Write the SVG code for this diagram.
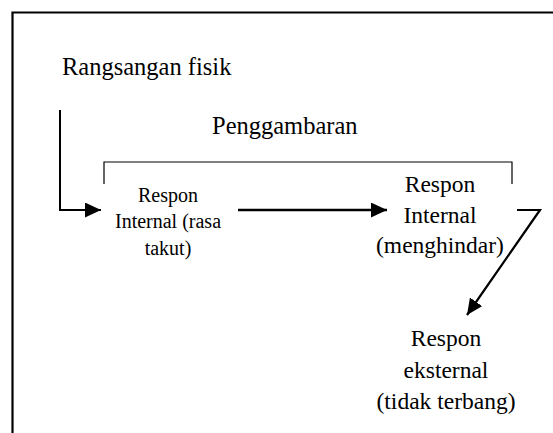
<svg xmlns="http://www.w3.org/2000/svg" width="553" height="433" viewBox="0 0 553 433">
<defs>
<style>
.t{font-family:'Liberation Serif','Times New Roman',Tinos,'Noto Serif','DejaVu Serif',FreeSerif,Times,serif;fill:#000;text-anchor:middle}
.big{font-size:24.5px;text-anchor:start}
.s20{font-size:20px}
.s24{font-size:23.5px}
.ln{fill:none;stroke:#000}
</style>
<marker id="ah" markerUnits="userSpaceOnUse" markerWidth="18" markerHeight="16" refX="16" refY="7.5" orient="auto">
<polygon points="0,0 16,7.5 0,15" fill="#000"/>
</marker>
</defs>
<rect width="553" height="433" fill="#fff"/>
<path class="ln" d="M12.5,433 V12.5 H553" stroke-width="2.2"/>
<g id="title"><text class="t big" x="62" y="75">Rangsangan fisik</text></g>
<g id="penggambaran"><text class="t big" x="212" y="134">Penggambaran</text></g>
<g id="bracket"><path class="ln" d="M104,184 V162 H512 V184" stroke-width="1.2"/></g>
<g id="node1"><text class="t s20"><tspan x="168" y="202">Respon</tspan><tspan x="168" y="228">Internal (rasa</tspan><tspan x="168" y="255">takut)</tspan></text></g>
<g id="node2"><text class="t s24"><tspan x="440" y="192">Respon</tspan><tspan x="440" y="223">Internal</tspan><tspan x="440" y="253">(menghindar)</tspan></text></g>
<g id="node3"><text class="t s24"><tspan x="446" y="346">Respon</tspan><tspan x="446" y="378">eksternal</tspan><tspan x="446" y="409">(tidak terbang)</tspan></text></g>
<g id="connectors">
<path class="ln" d="M60,110 V210 H101" stroke-width="2" stroke="#333" marker-end="url(#ah)"/>
<path class="ln" d="M238,210 H387" stroke-width="2.5" marker-end="url(#ah)"/>
<path class="ln" d="M517,210 H540 L467,315" stroke-width="2.2" marker-end="url(#ah)"/>
</g>
</svg>
